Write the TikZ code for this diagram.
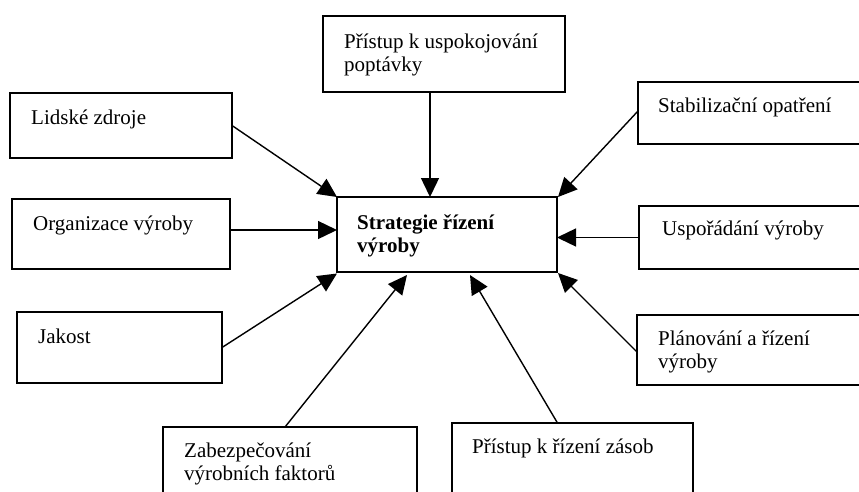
\documentclass[tikz,border=0pt]{standalone}
\usepackage{fontspec}
\setmainfont{Liberation Serif}
\usetikzlibrary{arrows.meta}
\begin{document}
\begin{tikzpicture}[x=1pt,y=-1pt,
  box/.style={draw,line width=1.6pt,inner sep=0pt,outer sep=0pt,anchor=north west},
  lbl/.style={anchor=base west,inner sep=0pt,font=\fontsize{21}{23}\selectfont},
  arr/.style={line width=1.4pt,-{Triangle[length=19pt,width=18pt]}}]
\useasboundingbox (0,0) rectangle (859,491);
\clip (0,0) rectangle (859,491);
% boxes
\node[box,minimum width=242pt,minimum height=76pt] (top) at (323,16) {};
\node[box,minimum width=222pt,minimum height=65pt] (lid) at (10,93) {};
\node[box,minimum width=218pt,minimum height=70pt] (org) at (12,199) {};
\node[box,minimum width=220pt,minimum height=75pt] (cen) at (337,197) {};
\node[box,minimum width=205pt,minimum height=71pt] (jak) at (17,312) {};
\node[box,minimum width=254pt,minimum height=90pt] (zab) at (163,427) {};
\node[box,minimum width=241pt,minimum height=90pt] (zas) at (452,423) {};
\node[box,minimum width=240pt,minimum height=62pt] (stab) at (638,82) {};
\node[box,minimum width=240pt,minimum height=63pt] (usp) at (639,206) {};
\node[box,minimum width=240pt,minimum height=70pt] (pla) at (637,315) {};
% texts
\node[lbl] (ttopa) at (344,48) {Přístup k uspokojování};
\node[lbl] (ttopb) at (344,71) {poptávky};
\node[lbl] (tlid) at (31,124) {Lidské zdroje};
\node[lbl] (torg) at (33,230) {Organizace výroby};
\node[lbl,font=\fontsize{21}{23}\selectfont\bfseries] (tcena) at (357,229) {Strategie řízení};
\node[lbl,font=\fontsize{21}{23}\selectfont\bfseries] (tcenb) at (357,252) {výroby};
\node[lbl] (tjak) at (38,343) {Jakost};
\node[lbl] (tzaba) at (184,457) {Zabezpečování};
\node[lbl] (tzabb) at (184,480) {výrobních faktorů};
\node[lbl] (tzas) at (472,453) {Přístup k řízení zásob};
\node[lbl] (tstab) at (658,112) {Stabilizační opatření};
\node[lbl] (tusp) at (662,235) {Uspořádání výroby};
\node[lbl] (tplaa) at (658,345) {Plánování a řízení};
\node[lbl] (tplab) at (658,368) {výroby};
% connectors
\draw[arr] ([xshift=-14pt]top.south) -- ([xshift=-14pt]top.south |- cen.north);
\draw[arr] (lid.east) -- (cen.north west);
\draw[arr] ([yshift=4pt]org.east) -- ([yshift=4pt]org.east -| cen.west);
\draw[arr] (jak.east) -- ([yshift=-1.5pt]cen.south west);
\draw[arr] ([xshift=-5pt]zab.north) -- ([xshift=-40pt,yshift=-3pt]cen.south);
\draw[arr] ([xshift=-15pt]zas.north) -- ([xshift=23pt,yshift=-3pt]cen.south);
\draw[arr] ([yshift=-2pt]pla.west) -- ([xshift=1pt,yshift=-1pt]cen.south east);
\draw[arr] (usp.west) -- (usp.west -| cen.east);
\draw[arr] ([yshift=2pt]stab.west) -- ([xshift=1pt]cen.north east);
\end{tikzpicture}
\end{document}
